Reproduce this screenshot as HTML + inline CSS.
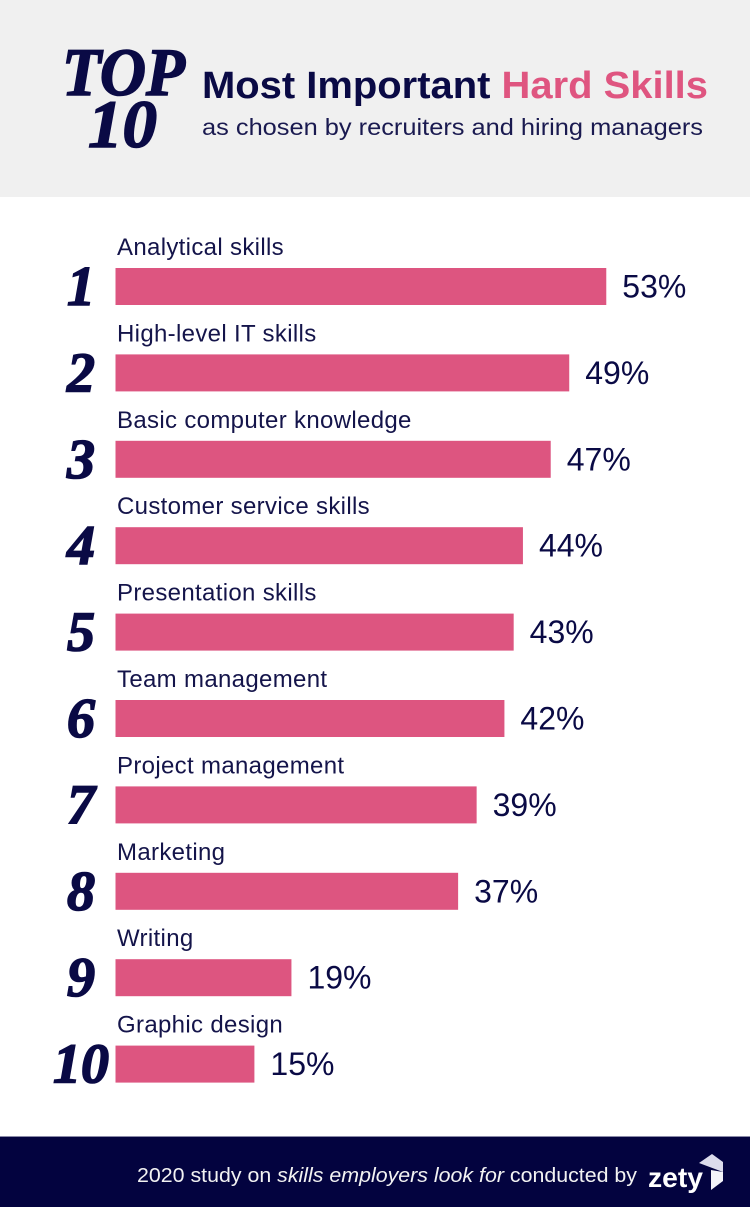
<!DOCTYPE html>
<html lang="en">
<head>
<meta charset="utf-8">
<title>Top 10 Most Important Hard Skills</title>
<style>
html,body{margin:0;padding:0;background:#fff;}
svg{display:block;}
text{font-family:"Liberation Sans",sans-serif;}
.rank{font-family:"Liberation Serif",serif;font-weight:bold;font-style:italic;fill:#0a0a45;stroke:#0a0a45;stroke-width:1.6;}
</style>
</head>
<body>
<svg id="chart" xmlns="http://www.w3.org/2000/svg" width="750" height="1207" viewBox="0 0 750 1207">
  <rect x="0" y="0" width="750" height="1207" fill="#ffffff"/>
  <rect x="0" y="0" width="750" height="197" fill="#f0f0f0"/>
  <text class="rank" x="62" y="95" font-size="68" textLength="123" lengthAdjust="spacingAndGlyphs">TOP</text>
  <text class="rank" x="88" y="147" font-size="68" textLength="69" lengthAdjust="spacingAndGlyphs">10</text>
  <text x="202" y="98" font-size="38" font-weight="bold" fill="#0a0a45" textLength="506" lengthAdjust="spacingAndGlyphs">Most Important <tspan fill="#df5580">Hard Skills</tspan></text>
  <text x="202" y="135" font-size="23" fill="#1a1a50" textLength="501" lengthAdjust="spacingAndGlyphs">as chosen by recruiters and hiring managers</text>
  <g id="rows"></g>
  <rect x="0" y="1136" width="750" height="1" fill="#8a8aa8"/>
  <rect x="0" y="1137" width="750" height="70" fill="#03033f"/>
  <text x="137" y="1182" font-size="20" fill="#f2f2f2" textLength="500" lengthAdjust="spacingAndGlyphs">2020 study on <tspan font-style="italic">skills employers look for</tspan> conducted by</text>
  <text x="648" y="1187" font-size="28" font-weight="bold" fill="#ffffff" textLength="55" lengthAdjust="spacingAndGlyphs">zety</text>
  <polygon points="699,1163 712,1154 723,1162 723,1172" fill="#dcdcec"/>
  <polygon points="711,1170 723,1172 723,1181 711,1190" fill="#f4f4fa"/>
</svg>
<script>
var categories = ["Analytical skills", "High-level IT skills", "Basic computer knowledge", "Customer service skills", "Presentation skills", "Team management", "Project management", "Marketing", "Writing", "Graphic design"];
var seriesValues = [53, 49, 47, 44, 43, 42, 39, 37, 19, 15];
var rankLabels = ["1", "2", "3", "4", "5", "6", "7", "8", "9", "10"];

var NS = "http://www.w3.org/2000/svg";
var rows = document.getElementById("rows");
var BAR_LEFT = 115.5;
var UNIT = 9.26;
var ROW_TOP = 268;
var ROW_STEP = 86.4;
var BAR_H = 37;

function xScale(v) { return v * UNIT; }
function yScale(i) { return ROW_TOP + i * ROW_STEP; }

function make(tag, attrs, content) {
  var el = document.createElementNS(NS, tag);
  for (var k in attrs) { el.setAttribute(k, attrs[k]); }
  if (content !== undefined) { el.textContent = content; }
  rows.appendChild(el);
  return el;
}

seriesValues.forEach(function (value, i) {
  var top = yScale(i);
  var w = xScale(value);

  var label = make("text", { x: 117, y: top - 13, "font-size": 24, "letter-spacing": 0.33, fill: "#14144a" }, categories[i]);
  
  

  var rank = make("text", { x: 81, y: top + 37, "font-size": 56, "text-anchor": "middle", "class": "rank" }, rankLabels[i]);
  
  

  var bar = make("rect", { x: BAR_LEFT, y: top, width: w, height: BAR_H, fill: "#dd5580" });
  
  

  var valueText = make("text", { x: BAR_LEFT + w + 16, y: top + 29.5, "font-size": 32, fill: "#0a0a45" }, value + "%");
  
  
});
</script>
</body>
</html>
